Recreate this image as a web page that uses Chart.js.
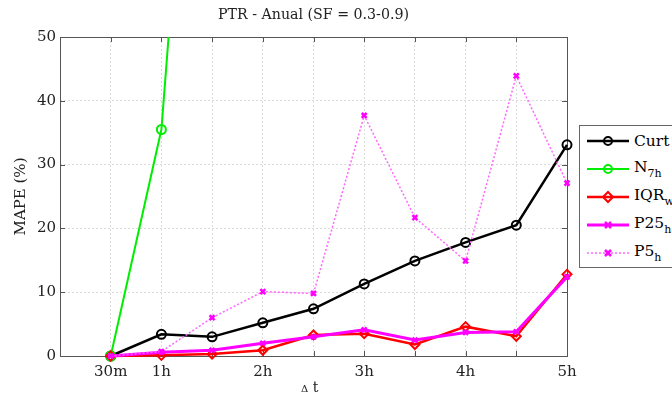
<!DOCTYPE html>
<html>
<head>
<meta charset="utf-8">
<script src="https://cdn.jsdelivr.net/npm/chart.js@4.4.1/dist/chart.umd.min.js"></script>
<style>
  html, body { margin: 0; padding: 0; background: #fff; }
  #wrap { position: relative; width: 672px; height: 402px; overflow: hidden; font-family: "DejaVu Serif", serif; }
  #title {
    position: absolute; left: 60px; width: 507px; top: 6px; text-align: center;
    font-size: 14.2px; color: #222;
  }
  #legend {
    position: absolute; left: 579px; top: 125px; width: 110px; height: 143px;
    border: 1px solid #666; background: #fff; box-sizing: border-box; padding-top: 1px;
  }
  .item { display: flex; align-items: center; height: 28px; font-size: 15.5px; color: #000; }
  .item svg { margin-left: 7px; margin-right: 5px; }
  .item sub { font-size: 11px; vertical-align: -5px; }
  #xtitle { position: absolute; left: 301px; top: 379px; font-size: 14px; color: #222; }
  #xtitle span { font-size: 10px; }
</style>
</head>
<body>
<div id="wrap">
  <canvas id="chart" width="672" height="402"></canvas>
  <div id="title">PTR - Anual (SF = 0.3-0.9)</div>
  <div id="legend"></div>
  <div id="xtitle"><span>Δ</span> t</div>
</div>
<script>
/* ================================================
   DATA
================================================ */
const xHours      = [0.5, 1, 1.5, 2, 2.5, 3, 3.5, 4, 4.5, 5];
const xTickVals   = [0.5, 1, 2, 3, 4, 5];
const xTickLabels = ['30m', '1h', '2h', '3h', '4h', '5h'];

const curt  = [0, 3.4, 3.0, 5.2, 7.4, 11.3, 14.9, 17.8, 20.5, 33.1];
const n7h   = [0, 35.5, 138, null, null, null, null, null, null, null];
const iqrW  = [0, 0.1, 0.3, 0.9, 3.3, 3.5, 1.8, 4.6, 3.1, 12.8];
const p25h  = [0, 0.6, 0.9, 2.0, 3.0, 4.1, 2.5, 3.7, 3.8, 12.4];
const p5h   = [0, 0.7, 6.0, 10.1, 9.8, 37.7, 21.7, 14.9, 43.9, 27.1];

const names = ['Curt', 'N', 'IQR', 'P25', 'P5'];
const subs  = ['', '7h', 'w', 'h', 'h'];

const pts = arr => xHours.map((x, i) => ({ x, y: arr[i] }));

/* ================================================
   SERIES STYLES
================================================ */
const series = [
  { data: curt, color: '#000000', width: 2.5, marker: 'circle',   r: 4.5, dash: [],     order: 5 },
  { data: n7h,  color: '#00ee00', width: 2,   marker: 'circle',   r: 4.5, dash: [],     order: 4 },
  { data: iqrW, color: '#ff0000', width: 2.5, marker: 'rectRot',  r: 4.5, dash: [],     order: 3 },
  { data: p25h, color: '#ff00ff', width: 3,   marker: 'crossRot', r: 3.5, dash: [],     order: 2 },
  { data: p5h,  color: '#ff66ff', width: 1.5, marker: 'crossRot', r: 3.5, dash: [2, 2], order: 1 },
];

const datasets = series.map((s, i) => ({
  label: names[i] + subs[i],
  data: pts(s.data),
  borderColor: s.color,
  backgroundColor: 'transparent',
  borderWidth: s.width,
  borderDash: s.dash,
  pointStyle: s.marker,
  pointRadius: s.r,
  pointBorderColor: i === 4 ? '#ff00ff' : s.color,
  pointBorderWidth: i >= 3 ? 2.5 : 2,
  pointBackgroundColor: 'transparent',
  tension: 0,
  spanGaps: false,
  order: s.order,
  clip: i === 1 ? { left: 5, right: 5, top: 0, bottom: 10 } : false,
}));

/* ================================================
   FRAME PLUGIN (box + inner ticks)
================================================ */
const framePlugin = {
  id: 'frame',
  beforeDatasetsDraw(chart) {
    const { ctx, chartArea: a, scales } = chart;
    ctx.save();
    ctx.strokeStyle = '#555';
    ctx.lineWidth = 1;
    ctx.beginPath();
    scales.x.ticks.forEach(t => {
      const px = Math.round(scales.x.getPixelForValue(t.value)) + 0.5;
      ctx.moveTo(px, a.bottom); ctx.lineTo(px, a.bottom - 5);
      ctx.moveTo(px, a.top);    ctx.lineTo(px, a.top + 5);
    });
    scales.y.ticks.forEach(t => {
      const py = Math.round(scales.y.getPixelForValue(t.value)) + 0.5;
      ctx.moveTo(a.left, py);  ctx.lineTo(a.left + 5, py);
      ctx.moveTo(a.right, py); ctx.lineTo(a.right - 5, py);
    });
    ctx.stroke();
    ctx.strokeRect(Math.round(a.left) + 0.5, Math.round(a.top) + 0.5,
                   Math.round(a.right - a.left), Math.round(a.bottom - a.top));
    ctx.restore();
  },
};

/* ================================================
   CHART
================================================ */
const tickFont = { family: 'DejaVu Serif', size: 15 };

new Chart(document.getElementById('chart'), {
  type: 'line',
  data: { datasets },
  options: {
    responsive: false,
    animation: false,
    devicePixelRatio: 1,
    layout: { padding: { left: 0, right: 105, top: 37, bottom: 0 } },
    plugins: {
      legend: { display: false },
      tooltip: { enabled: false },
      title: { display: false },
    },
    scales: {
      x: {
        type: 'linear',
        min: 0, max: 5,
        afterFit: s => { s.height = 46; },
        afterBuildTicks: s => {
          s.ticks = [0, 0.5, 1, 1.5, 2, 2.5, 3, 3.5, 4, 4.5, 5].map(v => ({ value: v }));
        },
        ticks: {
          autoSkip: false,
          maxRotation: 0,
          padding: 7,
          color: '#222',
          font: tickFont,
          callback: v => {
            const k = xTickVals.indexOf(v);
            return k >= 0 ? xTickLabels[k] : '';
          },
        },
        grid: { color: '#dcdcdc', lineWidth: 1, drawTicks: false },
        border: { display: false, dash: [2, 2] },
      },
      y: {
        min: 0, max: 50,
        afterFit: s => { s.width = 60; },
        ticks: {
          stepSize: 10,
          padding: 4,
          color: '#222',
          font: tickFont,
        },
        title: {
          display: true,
          text: 'MAPE (%)',
          color: '#222',
          font: tickFont,
          padding: { top: 12, bottom: 0 },
        },
        grid: { color: '#dcdcdc', lineWidth: 1, drawTicks: false },
        border: { display: false, dash: [2, 2] },
      },
    },
  },
  plugins: [framePlugin],
});

/* ================================================
   LEGEND (html, for subscripts)
================================================ */
function markerSvg(s, stroke) {
  const cx = 21, cy = 7;
  if (s.marker === 'circle')
    return `<circle cx="${cx}" cy="${cy}" r="4" fill="none" stroke="${stroke}" stroke-width="2"/>`;
  if (s.marker === 'rectRot')
    return `<polygon points="${cx},${cy - 5} ${cx + 5},${cy} ${cx},${cy + 5} ${cx - 5},${cy}" fill="none" stroke="${stroke}" stroke-width="2"/>`;
  return `<path d="M${cx - 3},${cy - 3}L${cx + 3},${cy + 3}M${cx + 3},${cy - 3}L${cx - 3},${cy + 3}" stroke="${stroke}" stroke-width="2.5"/>`;
}

const legendEl = document.getElementById('legend');
series.forEach((s, i) => {
  const dash = s.dash.length ? `stroke-dasharray="${s.dash.join(',')}"` : '';
  const mk = i === 4 ? '#ff00ff' : s.color;
  legendEl.insertAdjacentHTML('beforeend', `
    <div class="item">
      <svg width="42" height="14">
        <line x1="0" y1="7" x2="42" y2="7" stroke="${s.color}" stroke-width="${s.width}" ${dash}/>
        ${markerSvg(s, mk)}
      </svg>
      <span>${names[i]}${subs[i] ? '<sub>' + subs[i] + '</sub>' : ''}</span>
    </div>`);
});
</script>
</body>
</html>
